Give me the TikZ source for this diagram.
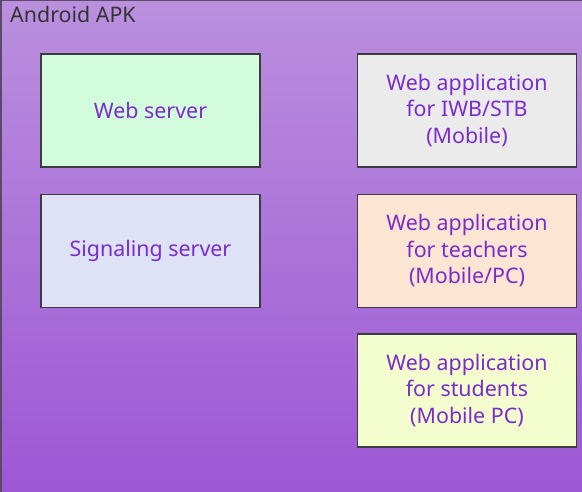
\documentclass[tikz,border=0pt]{standalone}
\usepackage{fontspec}
\setmainfont{Noto Sans}
\usetikzlibrary{positioning}
\definecolor{apktop}{HTML}{BA90DE}
\definecolor{apkbottom}{HTML}{9C55D4}
\definecolor{apkline}{HTML}{5A4A66}
\definecolor{boxline}{HTML}{3C3C3C}
\definecolor{boxtext}{HTML}{7A2CCC}
\definecolor{webfill}{HTML}{D3FCDC}
\definecolor{sigfill}{HTML}{DDE2F7}
\definecolor{iwbfill}{HTML}{EBEBEB}
\definecolor{teafill}{HTML}{FCE5D2}
\definecolor{stufill}{HTML}{F4FDCE}

\begin{document}
\begin{tikzpicture}[x=1pt,y=-1pt,
    box/.style={draw=boxline,line width=1.4pt,rectangle,align=center,
      minimum width=219pt,minimum height=113pt,inner sep=0pt,
      text=boxtext,font=\fontsize{21.4}{26.5}\selectfont}]
  \useasboundingbox (0,0) rectangle (582,491);
  \clip (0,0) rectangle (582,491);
  % container
  \shade[top color=apktop,bottom color=apkbottom] (1,0) rectangle (600,510);
  \draw[apkline,line width=1.5pt] (1,510) -- (1,0) -- (600,0);
  \node[anchor=north west,inner sep=0pt,text=black!80,
    font=\fontsize{21.4}{24}\selectfont] (apk) at (10,6) {Android APK};

  \node[box,fill=webfill] (web) at (150.5,110.5) {Web server};
  \node[box,fill=sigfill] (sig) at (150.5,251) {Signaling server};
  \node[box,fill=iwbfill] (iwb) at (467,110.5)
    {Web application\\for IWB/STB\\(Mobile)};
  \node[box,fill=teafill] (tea) at (467,251)
    {Web application\\for teachers\\(Mobile/PC)};
  \node[box,fill=stufill] (stu) at (467,390.5)
    {Web application\\for students\\(Mobile PC)};
\end{tikzpicture}
\end{document}
